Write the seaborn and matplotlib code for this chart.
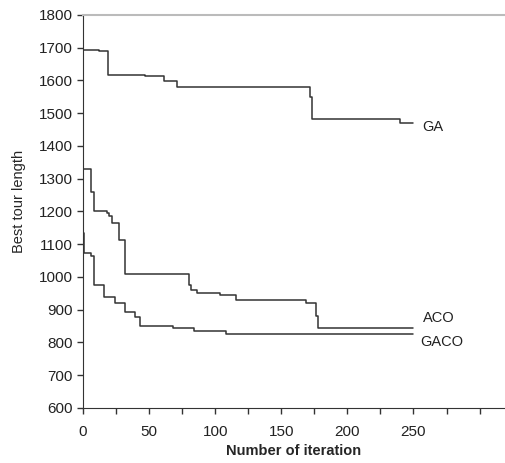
"""Best tour length vs iteration for GA, ACO and GACO."""

import matplotlib
matplotlib.use('Agg')
import matplotlib.pyplot as plt
import seaborn as sns
import pandas as pd

# step points (iteration, best tour length)
ga_iter = [0, 12, 19, 47, 61, 71, 172, 173, 240, 250]
ga_len = [1693, 1690, 1615, 1612, 1598, 1581, 1548, 1482, 1471, 1471]

aco_iter = [0, 6, 8, 18, 20, 22, 27, 32, 80, 82, 86, 104, 116, 169, 176, 178, 250]
aco_len = [1330, 1260, 1200, 1195, 1185, 1165, 1113, 1010, 975, 960, 952, 945, 930,
           921, 880, 843, 843]

gaco_iter = [0, 1, 6, 8, 16, 24, 32, 39, 43, 68, 84, 108, 250]
gaco_len = [1134, 1073, 1064, 976, 940, 920, 894, 879, 851, 843, 836, 825, 825]

series_names = ['GA', 'ACO', 'GACO']
label_pos = [(257, 1458), (257, 875), (255, 800)]
x_labeled = [0, 50, 100, 150, 200, 250]

sns.set_style('white')
plt.rcParams['font.family'] = ['Liberation Sans', 'DejaVu Sans']

df = pd.concat([
    pd.DataFrame({'iteration': ga_iter, 'length': ga_len, 'algo': 'GA'}),
    pd.DataFrame({'iteration': aco_iter, 'length': aco_len, 'algo': 'ACO'}),
    pd.DataFrame({'iteration': gaco_iter, 'length': gaco_len, 'algo': 'GACO'}),
])

fig = plt.figure(figsize=(5.06, 4.63), dpi=100)
ax = fig.add_axes([0.164, 0.119, 0.836, 0.849])

line_color = '#333333'
for name in series_names:
    sub = df[df['algo'] == name]
    sns.lineplot(data=sub, x='iteration', y='length', ax=ax, color=line_color,
                 linewidth=1.1, drawstyle='steps-post', estimator=None, sort=False)

for name, (tx, ty) in zip(series_names, label_pos):
    ax.text(tx, ty, name, ha='left', va='center', fontsize=10.5, color='#222222')

ax.set_xlim(0, 320)
ax.set_ylim(600, 1800)
ax.set_xticks(range(0, 325, 25))
ax.set_xticklabels([str(t) if t in x_labeled else '' for t in range(0, 325, 25)])
ax.set_yticks(range(600, 1900, 100))
ax.tick_params(axis='both', direction='out', length=4, width=1, colors='#333333',
               labelsize=11, labelcolor='#222222', bottom=True, left=True)
ax.tick_params(axis='x', pad=8)

ax.spines['right'].set_visible(False)
ax.spines['top'].set_color('#bbbbbb')
ax.spines['top'].set_linewidth(1.5)
ax.spines['left'].set_color('#333333')
ax.spines['bottom'].set_color('#333333')

ax.set_xlabel('Number of iteration', fontsize=10.5, fontweight='bold')
ax.set_ylabel('Best tour length', fontsize=10.5)
ax.xaxis.set_label_coords(0.498, -0.093)
ax.yaxis.set_label_coords(-0.135, 0.524)

fig.savefig('out.png', dpi=100)
